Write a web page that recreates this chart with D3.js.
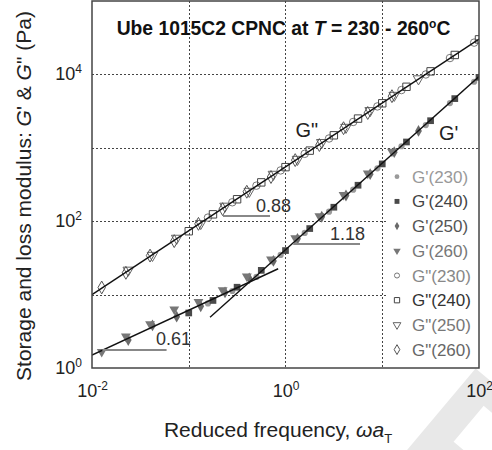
<!DOCTYPE html>
<html>
<head>
<meta charset="utf-8">
<script src="https://cdn.jsdelivr.net/npm/d3@7"></script>
<style>
  body { margin: 0; background: #fff; }
  svg { display: block; font-family: "Liberation Sans", Arial, Helvetica, sans-serif; }
</style>
</head>
<body>
<svg id="chart" width="492" height="450"></svg>
<script>
// reduced frequency (rad/s) for each temperature after shifting
var freq230 = [0.158, 0.282, 0.501, 0.891, 1.58, 2.82, 5.01, 8.91, 15.8, 28.2, 50.1, 89.1];
var freq240 = [0.1, 0.178, 0.316, 0.562, 1, 1.78, 3.16, 5.62, 10, 17.8, 31.6, 56.2, 100];
var freq250 = [0.0237, 0.0422, 0.075, 0.133, 0.237, 0.422, 0.75, 1.33, 2.37, 4.22, 7.5, 13.3, 23.7];
var freq260 = [0.0126, 0.0224, 0.0398, 0.0708, 0.126, 0.224, 0.398, 0.708, 1.26, 2.24, 3.98, 7.08, 12.6];

// storage modulus G' (Pa)
var gp230 = [7.59, 11.2, 17.4, 34.7, 69.2, 135, 269, 525, 1050, 2040, 4070, 7940];
var gp240 = [5.62, 8.32, 12.6, 21.4, 39.8, 79.4, 155, 309, 603, 1200, 2340, 4680, 9120];
var gp250 = [2.40, 3.80, 5.01, 6.92, 10.7, 16.6, 28.8, 57.5, 115, 224, 437, 871, 1700];
var gp260 = [1.66, 2.69, 3.98, 6.31, 7.94, 11.5, 17.8, 30.2, 58.9, 117, 229, 447, 891];

// loss modulus G" (Pa)
var gpp230 = [112, 181, 305, 492, 828, 1340, 2250, 3660, 6120, 9980, 16700, 27100];
var gpp240 = [73, 124, 199, 338, 545, 915, 1480, 2500, 4040, 6780, 11000, 18400, 30000];
var gpp250 = [21.5, 34.2, 58.5, 93, 160, 255, 435, 695, 1180, 1900, 3210, 5180, 8700];
var gpp260 = [12.5, 19.8, 34.0, 53.5, 92, 146, 252, 400, 680, 1090, 1850, 2980, 5050];

// power-law fits [frequency, modulus]
var fitLoss = [[0.01, 10], [100, 30200]];
var fitStorageLow = [[0.01, 1.5], [0.84, 22.5]];
var fitStorageHigh = [[0.166, 4.9], [100, 9330]];

// slope marks: horizontal leg and its label
var slopeLabels = ['0.61', '0.88', '1.18'];
var slopeFrom = [0.0128, 0.226, 1.20];
var slopeTo = [0.059, 0.692, 5.89];
var slopeLevel = [1.76, 118, 49];
var slopeTextAt = [[0.0458, 2.06], [0.495, 133], [2.88, 55.5]];

var xTicks = [1e-2, 1, 1e2];
var yTicks = [1, 1e2, 1e4];
var xGrid = [0.1, 1, 10];
var yGrid = [10, 100, 1e3, 1e4];

var W = 492, H = 450;
var margin = {left: 92, right: 13, top: 1, bottom: 82};

var svg = d3.select('#chart');

var x = d3.scaleLog().domain([1e-2, 1e2]).range([margin.left, W - margin.right]);
var y = d3.scaleLog().domain([1, 1e5]).range([H - margin.bottom, margin.top]);

// faint watermark letter on the right, mostly off the page
svg.append('text')
  .attr('transform', 'translate(372,470) rotate(40)')
  .attr('font-size', 210)
  .attr('font-weight', 'bold')
  .attr('fill', '#e8e8e8')
  .text('P');

svg.append('clipPath').attr('id', 'plotclip')
  .append('rect')
  .attr('x', x.range()[0]).attr('y', y.range()[1])
  .attr('width', x.range()[1] - x.range()[0])
  .attr('height', y.range()[0] - y.range()[1]);

// plot background so the watermark stays outside the frame
svg.append('rect')
  .attr('x', x.range()[0]).attr('y', y.range()[1])
  .attr('width', x.range()[1] - x.range()[0])
  .attr('height', y.range()[0] - y.range()[1])
  .attr('fill', '#fff');

// dotted grid
var grid = svg.append('g').attr('class', 'grid')
  .attr('stroke', '#444').attr('stroke-width', 1).attr('stroke-dasharray', '2,2');
grid.selectAll('line.gx').data(xGrid).enter().append('line')
  .attr('class', 'gx')
  .attr('x1', function(d) { return Math.round(x(d)) + 0.5; })
  .attr('x2', function(d) { return Math.round(x(d)) + 0.5; })
  .attr('y1', y.range()[1]).attr('y2', y.range()[0]);
grid.selectAll('line.gy').data(yGrid).enter().append('line')
  .attr('class', 'gy')
  .attr('y1', function(d) { return Math.round(y(d)) + 0.5; })
  .attr('y2', function(d) { return Math.round(y(d)) + 0.5; })
  .attr('x1', x.range()[0]).attr('x2', x.range()[1]);

// series table, built from the arrays above
var series = [
  {name: "G'(230)", f: freq230, v: gp230, shape: d3.symbolCircle, open: false},
  {name: "G'(240)", f: freq240, v: gp240, shape: d3.symbolSquare, open: false},
  {name: "G'(250)", f: freq250, v: gp250, shape: d3.symbolDiamond, open: false},
  {name: "G'(260)", f: freq260, v: gp260, shape: d3.symbolTriangle, open: false, flip: true},
  {name: 'G"(230)', f: freq230, v: gpp230, shape: d3.symbolCircle, open: true},
  {name: 'G"(240)', f: freq240, v: gpp240, shape: d3.symbolSquare, open: true},
  {name: 'G"(250)', f: freq250, v: gpp250, shape: d3.symbolTriangle, open: true, flip: true},
  {name: 'G"(260)', f: freq260, v: gpp260, shape: d3.symbolDiamond, open: true}
];
var markColor = ['#9a9a9a', '#4a4a4a', '#6a6a6a', '#777', '#777', '#444', '#666', '#555'];
var textColor = ['#999', '#444', '#555', '#777', '#888', '#333', '#777', '#666'];
var plotSize = [30, 45, 40, 42, 44, 55, 48, 48];
var legendSize = [18, 24, 20, 24, 20, 28, 26, 28];

var plot = svg.append('g').attr('clip-path', 'url(#plotclip)');

// open (G") markers first, then filled (G')
var order = [4, 5, 6, 7, 2, 3, 0, 1];
order.forEach(function(k) {
  var s = series[k];
  var pts = s.f.map(function(f, i) { return [f, s.v[i]]; });
  var sym = d3.symbol().type(s.shape).size(plotSize[k]);
  plot.append('g').selectAll('path').data(pts).enter().append('path')
    .attr('d', sym)
    .attr('transform', function(d) {
      return 'translate(' + x(d[0]) + ',' + y(d[1]) + ')' + (s.flip ? ' rotate(180)' : '');
    })
    .attr('fill', s.open ? 'none' : markColor[k])
    .attr('stroke', s.open ? markColor[k] : 'none')
    .attr('stroke-width', 1);
});

// fit lines
var line = d3.line()
  .x(function(d) { return x(d[0]); })
  .y(function(d) { return y(d[1]); });
[fitLoss, fitStorageLow, fitStorageHigh].forEach(function(fit) {
  plot.append('path').datum(fit)
    .attr('d', line)
    .attr('fill', 'none')
    .attr('stroke', '#111')
    .attr('stroke-width', 1.4);
});

// slope marks
slopeLabels.forEach(function(lab, i) {
  svg.append('line')
    .attr('x1', x(slopeFrom[i])).attr('x2', x(slopeTo[i]))
    .attr('y1', y(slopeLevel[i])).attr('y2', y(slopeLevel[i]))
    .attr('stroke', '#888').attr('stroke-width', 2);
  svg.append('text')
    .attr('x', x(slopeTextAt[i][0])).attr('y', y(slopeTextAt[i][1]))
    .attr('font-size', 18).attr('fill', '#333')
    .text(lab);
});

// curve names
svg.append('text').attr('x', x(1.27)).attr('y', y(1400))
  .attr('font-size', 20).attr('fill', '#222').text('G"');
svg.append('text').attr('x', x(38.6)).attr('y', y(1280))
  .attr('font-size', 20).attr('fill', '#222').text("G'");

// legend
var legend = svg.append('g').attr('class', 'legend');
legend.append('rect')
  .attr('x', 386).attr('y', 163)
  .attr('width', x.range()[1] - 386 - 1)
  .attr('height', y.range()[0] - 163 - 1)
  .attr('fill', '#fff');
var rows = legend.selectAll('g.row').data(series).enter().append('g')
  .attr('class', 'row')
  .attr('transform', function(d, i) { return 'translate(397,' + (176.7 + i * 24.7) + ')'; });
rows.append('path')
  .attr('d', function(d, i) { return d3.symbol().type(d.shape).size(legendSize[i])(); })
  .attr('transform', function(d) { return d.flip ? 'rotate(180)' : null; })
  .attr('fill', function(d, i) { return d.open ? 'none' : markColor[i]; })
  .attr('stroke', function(d, i) { return d.open ? markColor[i] : 'none'; })
  .attr('stroke-width', 1);
rows.append('text')
  .attr('x', 15).attr('y', 6)
  .attr('font-size', 17)
  .attr('fill', function(d, i) { return textColor[i]; })
  .text(function(d) { return d.name; });

// frame
svg.append('rect')
  .attr('x', x.range()[0]).attr('y', y.range()[1])
  .attr('width', x.range()[1] - x.range()[0])
  .attr('height', y.range()[0] - y.range()[1])
  .attr('fill', 'none').attr('stroke', '#444').attr('stroke-width', 1.5);

// axes with power-of-ten labels
function powLabel(text) {
  text.each(function(d) {
    var t = d3.select(this).text(null);
    t.append('tspan').text('10');
    t.append('tspan').attr('dy', -7).attr('font-size', 12)
      .text(Math.round(Math.log10(d)));
  });
}

var xAxisG = svg.append('g')
  .attr('transform', 'translate(0,' + y.range()[0] + ')')
  .call(d3.axisBottom(x).tickValues(xTicks).tickSize(0).tickFormat(function() { return ''; }));
xAxisG.select('.domain').remove();
xAxisG.attr('font-size', null).attr('font-family', null);
xAxisG.selectAll('.tick text')
  .attr('y', 29).attr('dy', 0)
  .attr('font-size', 18).attr('fill', '#222')
  .call(powLabel);

var yAxisG = svg.append('g')
  .attr('transform', 'translate(' + x.range()[0] + ',0)')
  .call(d3.axisLeft(y).tickValues(yTicks).tickSize(0).tickPadding(10).tickFormat(function() { return ''; }));
yAxisG.select('.domain').remove();
yAxisG.attr('font-size', null).attr('font-family', null);
yAxisG.selectAll('.tick text')
  .attr('dy', 5)
  .attr('font-size', 18).attr('fill', '#222')
  .call(powLabel);

// title inside the plot
var title = svg.append('text')
  .attr('x', (x.range()[0] + x.range()[1]) / 2 - 2).attr('y', 35)
  .attr('text-anchor', 'middle')
  .attr('font-size', 19.3).attr('font-weight', 'bold').attr('fill', '#111');
title.append('tspan').text('Ube 1015C2 CPNC at ');
title.append('tspan').attr('font-style', 'italic').text('T');
title.append('tspan').text(' = 230 - 260');
title.append('tspan').attr('dy', -7).attr('font-size', 12).text('o');
title.append('tspan').attr('dy', 7).text('C');

// axis titles
var xTitle = svg.append('text')
  .attr('x', 278).attr('y', 437)
  .attr('text-anchor', 'middle')
  .attr('font-size', 21).attr('fill', '#222');
xTitle.append('tspan').text('Reduced frequency, ');
xTitle.append('tspan').attr('font-style', 'italic').text('\u03c9a');
xTitle.append('tspan').attr('dy', 6).attr('font-size', 13).text('T');

var yTitle = svg.append('text')
  .attr('transform', 'translate(31,196) rotate(-90)')
  .attr('text-anchor', 'middle')
  .attr('font-size', 21).attr('fill', '#222');
yTitle.append('tspan').text('Storage and loss modulus: ');
yTitle.append('tspan').attr('font-style', 'italic').text('G');
yTitle.append('tspan').text("' & ");
yTitle.append('tspan').attr('font-style', 'italic').text('G');
yTitle.append('tspan').text('" (Pa)');
</script>
</body>
</html>
